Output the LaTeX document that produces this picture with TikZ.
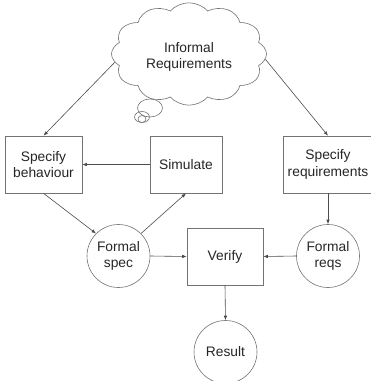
\documentclass[tikz,border=0pt]{standalone}
\usepackage{fontspec}
\setmainfont{Liberation Sans}
\usetikzlibrary{arrows.meta,shapes.symbols}
\begin{document}
\begin{tikzpicture}[x=1pt,y=-1pt,
  every node/.style={font=\fontsize{13.8}{16.8}\selectfont, text=black!85, align=center},
  procbox/.style={draw=black!55, line width=0.6pt, fill=white, minimum height=57pt, inner sep=2pt},
  datacirc/.style={draw=black!55, line width=0.6pt, circle, minimum size=63pt, inner sep=0pt},
  flow/.style={draw=black!70, line width=0.6pt, -{Latex[length=4.5pt,width=3.5pt]}}
]
\useasboundingbox (0,0) rectangle (371,381);
% thought bubbles
\draw[black!55, line width=0.6pt] (150,108) ellipse [x radius=12.5pt, y radius=9pt];
\draw[black!55, line width=0.6pt] (142,117) ellipse [x radius=7.5pt, y radius=5.5pt];
\draw[black!55, line width=0.6pt] (142,119) ellipse [x radius=4pt, y radius=3.5pt];
% cloud
\begin{scope}[shift={(189,54)}, yscale=0.8, transform shape]
\node[cloud, cloud ignores aspect, cloud puffs=12, cloud puff arc=115, draw=black!55, line width=0.6pt, fill=white,
      minimum width=155pt, minimum height=128pt, inner sep=0pt] (cloud) at (0,0) {};
\end{scope}
\node (cloudtxt) at (189,57) {Informal\\Requirements};
% boxes
\node[procbox, minimum width=77pt] (sb) at (43.5,164.5) {Specify\\behaviour};
\node[procbox, minimum width=72pt] (sim) at (186,164.5) {Simulate};
\node[procbox, minimum width=90pt] (sr) at (328,164.5) {Specify\\requirements};
\node[procbox, minimum width=76pt] (ver) at (225,256.5) {Verify};
% circles
\node[datacirc] (fs) at (118.5,256) {Formal\\spec};
\node[datacirc] (fr) at (328,256) {Formal\\reqs};
\node[datacirc] (res) at (225.5,352) {Result};
% connectors
\draw[flow] (cloud.188) -- (sb.north);
\draw[flow] (cloud.-5) -- (sr.north);
\draw[flow] (sim.west) -- (sb.east);
\draw[flow] (sb.south) -- (fs.135);
\draw[flow] (fs.45) -- (sim.south);
\draw[flow] (fs.east) -- (ver.west);
\draw[flow] (fr.west) -- (ver.east);
\draw[flow] (sr.south) -- (fr.north);
\draw[flow] (ver.south) -- (res.north);
\end{tikzpicture}
\end{document}
